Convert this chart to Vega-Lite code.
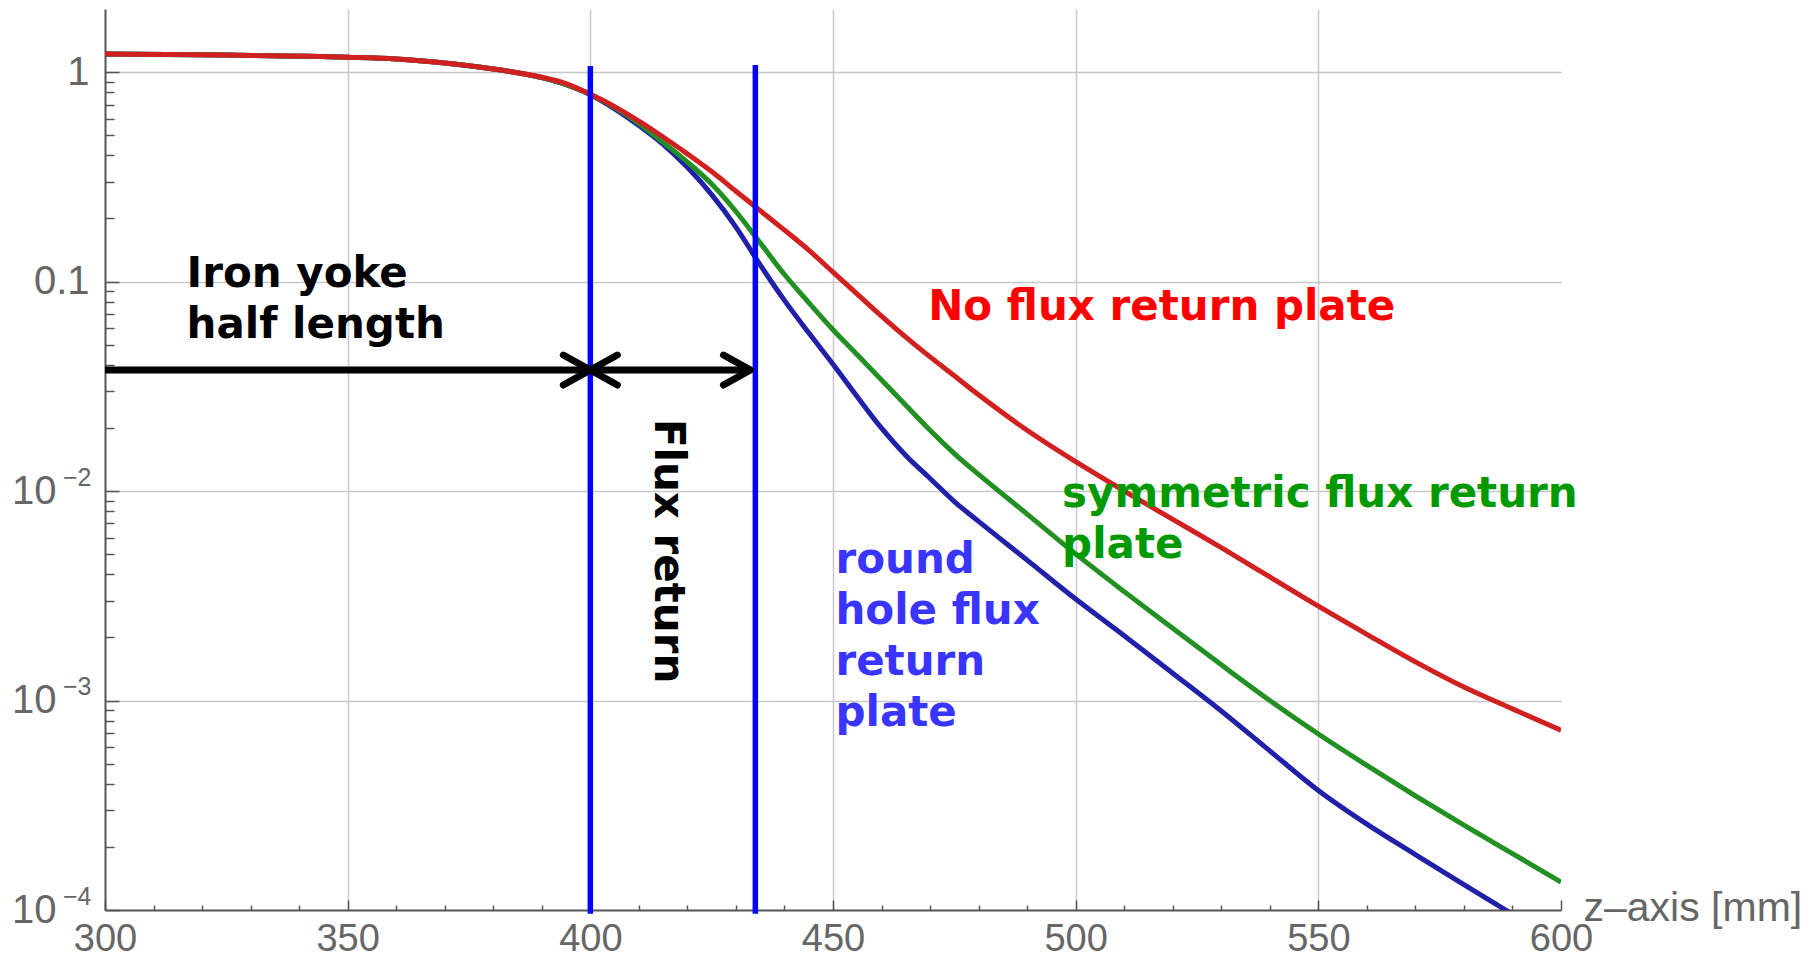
{
  "$schema": "https://vega.github.io/schema/vega-lite/v6.json",
  "width": 1456,
  "height": 901,
  "autosize": {"type": "none"},
  "padding": {"left": 105, "top": 9, "right": 254, "bottom": 51},
  "background": "white",
  "config": {"view": {"stroke": null}},
  "datasets": {
    "curves": [
      {"s": "round hole flux return plate", "z": 300, "v": 1.22},
      {"s": "round hole flux return plate", "z": 325, "v": 1.205},
      {"s": "round hole flux return plate", "z": 350, "v": 1.178},
      {"s": "round hole flux return plate", "z": 360, "v": 1.155},
      {"s": "round hole flux return plate", "z": 370, "v": 1.105},
      {"s": "round hole flux return plate", "z": 380, "v": 1.035},
      {"s": "round hole flux return plate", "z": 390, "v": 0.94},
      {"s": "round hole flux return plate", "z": 395, "v": 0.87},
      {"s": "round hole flux return plate", "z": 400, "v": 0.78},
      {"s": "round hole flux return plate", "z": 405, "v": 0.668},
      {"s": "round hole flux return plate", "z": 410, "v": 0.556},
      {"s": "round hole flux return plate", "z": 415, "v": 0.452},
      {"s": "round hole flux return plate", "z": 420, "v": 0.351},
      {"s": "round hole flux return plate", "z": 425, "v": 0.26},
      {"s": "round hole flux return plate", "z": 430, "v": 0.182},
      {"s": "round hole flux return plate", "z": 435, "v": 0.12},
      {"s": "round hole flux return plate", "z": 440, "v": 0.0813},
      {"s": "round hole flux return plate", "z": 445, "v": 0.0569},
      {"s": "round hole flux return plate", "z": 450, "v": 0.0403},
      {"s": "round hole flux return plate", "z": 455, "v": 0.0282},
      {"s": "round hole flux return plate", "z": 460, "v": 0.01995},
      {"s": "round hole flux return plate", "z": 465, "v": 0.01479},
      {"s": "round hole flux return plate", "z": 470, "v": 0.01148},
      {"s": "round hole flux return plate", "z": 475, "v": 0.00891},
      {"s": "round hole flux return plate", "z": 480, "v": 0.00716},
      {"s": "round hole flux return plate", "z": 490, "v": 0.00468},
      {"s": "round hole flux return plate", "z": 500, "v": 0.00305},
      {"s": "round hole flux return plate", "z": 510, "v": 0.00204},
      {"s": "round hole flux return plate", "z": 520, "v": 0.00135},
      {"s": "round hole flux return plate", "z": 530, "v": 0.000891},
      {"s": "round hole flux return plate", "z": 540, "v": 0.000575},
      {"s": "round hole flux return plate", "z": 550, "v": 0.000372},
      {"s": "round hole flux return plate", "z": 560, "v": 0.000257},
      {"s": "round hole flux return plate", "z": 570, "v": 0.000184},
      {"s": "round hole flux return plate", "z": 580, "v": 0.000132},
      {"s": "round hole flux return plate", "z": 590, "v": 0.0000955},
      {"s": "symmetric flux return plate", "z": 300, "v": 1.22},
      {"s": "symmetric flux return plate", "z": 325, "v": 1.205},
      {"s": "symmetric flux return plate", "z": 350, "v": 1.178},
      {"s": "symmetric flux return plate", "z": 360, "v": 1.155},
      {"s": "symmetric flux return plate", "z": 370, "v": 1.105},
      {"s": "symmetric flux return plate", "z": 380, "v": 1.035},
      {"s": "symmetric flux return plate", "z": 390, "v": 0.94},
      {"s": "symmetric flux return plate", "z": 395, "v": 0.87},
      {"s": "symmetric flux return plate", "z": 400, "v": 0.781},
      {"s": "symmetric flux return plate", "z": 405, "v": 0.679},
      {"s": "symmetric flux return plate", "z": 410, "v": 0.569},
      {"s": "symmetric flux return plate", "z": 415, "v": 0.462},
      {"s": "symmetric flux return plate", "z": 420, "v": 0.372},
      {"s": "symmetric flux return plate", "z": 425, "v": 0.292},
      {"s": "symmetric flux return plate", "z": 430, "v": 0.216},
      {"s": "symmetric flux return plate", "z": 435, "v": 0.153},
      {"s": "symmetric flux return plate", "z": 440, "v": 0.108},
      {"s": "symmetric flux return plate", "z": 445, "v": 0.0794},
      {"s": "symmetric flux return plate", "z": 450, "v": 0.0589},
      {"s": "symmetric flux return plate", "z": 455, "v": 0.0447},
      {"s": "symmetric flux return plate", "z": 460, "v": 0.0339},
      {"s": "symmetric flux return plate", "z": 465, "v": 0.0257},
      {"s": "symmetric flux return plate", "z": 470, "v": 0.0195},
      {"s": "symmetric flux return plate", "z": 475, "v": 0.0151},
      {"s": "symmetric flux return plate", "z": 480, "v": 0.012},
      {"s": "symmetric flux return plate", "z": 490, "v": 0.00776},
      {"s": "symmetric flux return plate", "z": 500, "v": 0.00501},
      {"s": "symmetric flux return plate", "z": 510, "v": 0.00331},
      {"s": "symmetric flux return plate", "z": 520, "v": 0.00221},
      {"s": "symmetric flux return plate", "z": 530, "v": 0.00148},
      {"s": "symmetric flux return plate", "z": 540, "v": 0.001},
      {"s": "symmetric flux return plate", "z": 550, "v": 0.000692},
      {"s": "symmetric flux return plate", "z": 560, "v": 0.00049},
      {"s": "symmetric flux return plate", "z": 570, "v": 0.000351},
      {"s": "symmetric flux return plate", "z": 580, "v": 0.000254},
      {"s": "symmetric flux return plate", "z": 590, "v": 0.000186},
      {"s": "symmetric flux return plate", "z": 600, "v": 0.000136},
      {"s": "No flux return plate", "z": 300, "v": 1.22},
      {"s": "No flux return plate", "z": 325, "v": 1.205},
      {"s": "No flux return plate", "z": 350, "v": 1.178},
      {"s": "No flux return plate", "z": 360, "v": 1.155},
      {"s": "No flux return plate", "z": 370, "v": 1.105},
      {"s": "No flux return plate", "z": 380, "v": 1.035},
      {"s": "No flux return plate", "z": 390, "v": 0.944},
      {"s": "No flux return plate", "z": 395, "v": 0.881},
      {"s": "No flux return plate", "z": 400, "v": 0.783},
      {"s": "No flux return plate", "z": 405, "v": 0.684},
      {"s": "No flux return plate", "z": 410, "v": 0.583},
      {"s": "No flux return plate", "z": 415, "v": 0.49},
      {"s": "No flux return plate", "z": 420, "v": 0.407},
      {"s": "No flux return plate", "z": 425, "v": 0.335},
      {"s": "No flux return plate", "z": 430, "v": 0.27},
      {"s": "No flux return plate", "z": 435, "v": 0.218},
      {"s": "No flux return plate", "z": 440, "v": 0.176},
      {"s": "No flux return plate", "z": 445, "v": 0.1413},
      {"s": "No flux return plate", "z": 450, "v": 0.1109},
      {"s": "No flux return plate", "z": 455, "v": 0.0871},
      {"s": "No flux return plate", "z": 460, "v": 0.0684},
      {"s": "No flux return plate", "z": 465, "v": 0.0543},
      {"s": "No flux return plate", "z": 470, "v": 0.0437},
      {"s": "No flux return plate", "z": 475, "v": 0.0355},
      {"s": "No flux return plate", "z": 480, "v": 0.0288},
      {"s": "No flux return plate", "z": 490, "v": 0.0195},
      {"s": "No flux return plate", "z": 500, "v": 0.0138},
      {"s": "No flux return plate", "z": 510, "v": 0.01},
      {"s": "No flux return plate", "z": 520, "v": 0.00733},
      {"s": "No flux return plate", "z": 530, "v": 0.00537},
      {"s": "No flux return plate", "z": 540, "v": 0.00389},
      {"s": "No flux return plate", "z": 550, "v": 0.00282},
      {"s": "No flux return plate", "z": 560, "v": 0.00207},
      {"s": "No flux return plate", "z": 570, "v": 0.00153},
      {"s": "No flux return plate", "z": 580, "v": 0.00116},
      {"s": "No flux return plate", "z": 590, "v": 0.000912},
      {"s": "No flux return plate", "z": 600, "v": 0.000721}
    ],
    "bounds": [
      {"z": 400, "top": 1.07, "bottom": 0.000096},
      {"z": 434, "top": 1.08, "bottom": 0.000096}
    ],
    "shaft": [
      {"z0": 300, "z1": 433, "v": 0.0378}
    ],
    "heads": [
      {"z": 400, "v": 0.0378, "dir": "right"},
      {"z": 400, "v": 0.0378, "dir": "left"},
      {"z": 433, "v": 0.0378, "dir": "right"}
    ],
    "notes": [
      {"label": ["Iron yoke", "half length"], "z": 316.8, "v": 0.0946, "kind": "yoke"},
      {"label": ["No flux return plate"], "z": 469.6, "v": 0.0656, "kind": "none"},
      {"label": ["symmetric flux return", "plate"], "z": 497.2, "v": 0.0084, "kind": "symmetric"},
      {"label": ["round", "hole flux", "return", "plate"], "z": 450.5, "v": 0.00404, "kind": "round"}
    ],
    "vnotes": [
      {"label": "Flux return", "z": 413.3, "v": 0.0221}
    ]
  },
  "layer": [
    {
      "data": {"name": "curves"},
      "mark": {"type": "line", "interpolate": "monotone", "strokeWidth": 5, "clip": true},
      "encoding": {
        "x": {
          "field": "z", "type": "quantitative",
          "scale": {"domain": [300, 600], "nice": false, "zero": false},
          "axis": {
            "orient": "bottom",
            "values": [300, 350, 400, 450, 500, 550, 600],
            "labelFont": "Liberation Sans", "labelFontSize": 38, "labelColor": "#666666",
            "labelPadding": 20, "labelOverlap": false, "labelFlush": false,
            "tickColor": "#555555", "tickWidth": 1.5, "tickSize": -10,
            "domainColor": "#555555", "domainWidth": 2,
            "grid": true, "gridColor": "#c8c8c8", "gridWidth": 1.5,
            "gridOpacity": {"condition": {"test": "datum.value > 300 && datum.value < 600", "value": 1}, "value": 0},
            "title": "z–axis [mm]", "titleFont": "Liberation Sans", "titleFontSize": 41,
            "titleFontWeight": "normal", "titleColor": "#666666",
            "titleX": 1478, "titleY": 10, "titleAlign": "left", "titleBaseline": "alphabetic"
          }
        },
        "y": {
          "field": "v", "type": "quantitative",
          "scale": {"type": "log", "domain": [0.0001, 2], "nice": false},
          "axis": {
            "orient": "left",
            "values": [0.0001,0.0002,0.0003,0.0004,0.0005,0.0006,0.0007,0.0008,0.0009,0.001,0.002,0.003,0.004,0.005,0.006,0.007,0.008,0.009,0.01,0.02,0.03,0.04,0.05,0.06,0.07,0.08,0.09,0.1,0.2,0.3,0.4,0.5,0.6,0.7,0.8,0.9,1],
            "labelExpr": "datum.value == 1 ? '1' : datum.value == 0.1 ? '0.1' : (datum.value == 0.01 || datum.value == 0.001 || datum.value == 0.0001) ? '10' : ''",
            "labelFont": "Liberation Sans", "labelFontSize": 40, "labelColor": "#666666",
            "labelBaseline": "middle", "labelOverlap": false, "labelFlush": false,
            "labelPadding": {"condition": {"test": "datum.value < 0.05", "value": 63}, "value": 30},
            "tickColor": "#555555", "tickWidth": 1.5,
            "tickSize": {"condition": {"test": "datum.value == 1 || datum.value == 0.1 || datum.value == 0.01 || datum.value == 0.001 || datum.value == 0.0001", "value": -14}, "value": -9},
            "domainColor": "#555555", "domainWidth": 2,
            "grid": true, "gridColor": "#c8c8c8", "gridWidth": 1.5,
            "gridOpacity": {"condition": {"test": "datum.value == 1 || datum.value == 0.1 || datum.value == 0.01 || datum.value == 0.001", "value": 1}, "value": 0},
            "title": null
          }
        },
        "color": {
          "field": "s", "type": "nominal",
          "scale": {"domain": ["No flux return plate", "symmetric flux return plate", "round hole flux return plate"], "range": ["#d02020", "#239023", "#2020a8"]},
          "legend": null
        }
      }
    },
    {
      "data": {"name": "bounds"},
      "mark": {"type": "rule", "color": "#0000ff", "strokeWidth": 5.5},
      "encoding": {
        "x": {
          "field": "z", "type": "quantitative",
          "axis": {
            "orient": "bottom",
            "values": [310,320,330,340,360,370,380,390,410,420,430,440,460,470,480,490,510,520,530,540,560,570,580,590],
            "labels": false, "domain": false, "grid": false, "title": null,
            "tickColor": "#555555", "tickWidth": 1.5, "tickSize": -5
          }
        },
        "y": {
          "field": "top", "type": "quantitative",
          "axis": {
            "orient": "left",
            "values": [0.01, 0.001, 0.0001],
            "labelExpr": "datum.value == 0.01 ? '−2' : datum.value == 0.001 ? '−3' : '−4'",
            "labelFont": "Liberation Sans", "labelFontSize": 25, "labelColor": "#666666",
            "labelPadding": 14, "labelOffset": -14, "labelBaseline": "middle",
            "labelOverlap": false, "labelFlush": false,
            "ticks": false, "tickSize": 0, "domain": false, "grid": false, "title": null
          }
        },
        "y2": {"field": "bottom"}
      }
    },
    {
      "data": {"name": "shaft"},
      "mark": {"type": "rule", "color": "#000000", "strokeWidth": 7},
      "encoding": {
        "x": {"field": "z0", "type": "quantitative", "axis": null},
        "x2": {"field": "z1"},
        "y": {"field": "v", "type": "quantitative", "axis": null}
      }
    },
    {
      "data": {"name": "heads"},
      "mark": {"type": "point", "filled": false, "stroke": "#000000", "strokeWidth": 7, "strokeCap": "round", "strokeJoin": "round", "size": 900, "opacity": 1},
      "encoding": {
        "x": {"field": "z", "type": "quantitative", "axis": null},
        "y": {"field": "v", "type": "quantitative", "axis": null},
        "shape": {
          "field": "dir", "type": "nominal",
          "scale": {"domain": ["right", "left"], "range": ["M -1.8 -1 L 0 0 L -1.8 1", "M 1.8 -1 L 0 0 L 1.8 1"]},
          "legend": null
        }
      }
    },
    {
      "data": {"name": "notes"},
      "mark": {"type": "text", "font": "DejaVu Sans", "fontWeight": "bold", "fontSize": 42, "lineHeight": 51, "align": "left", "baseline": "alphabetic"},
      "encoding": {
        "x": {"field": "z", "type": "quantitative", "axis": null},
        "y": {"field": "v", "type": "quantitative", "axis": null},
        "text": {"field": "label", "type": "nominal"},
        "color": {
          "field": "kind", "type": "nominal",
          "scale": {"domain": ["yoke", "none", "symmetric", "round"], "range": ["#000000", "#ff0000", "#009900", "#3a34ff"]},
          "legend": null
        }
      }
    },
    {
      "data": {"name": "vnotes"},
      "mark": {"type": "text", "font": "DejaVu Sans", "fontWeight": "bold", "fontSize": 42, "angle": 90, "align": "left", "baseline": "alphabetic", "color": "#000000"},
      "encoding": {
        "x": {"field": "z", "type": "quantitative", "axis": null},
        "y": {"field": "v", "type": "quantitative", "axis": null},
        "text": {"field": "label", "type": "nominal"}
      }
    }
  ],
  "resolve": {"axis": {"x": "independent", "y": "independent"}, "scale": {"color": "independent"}}
}
